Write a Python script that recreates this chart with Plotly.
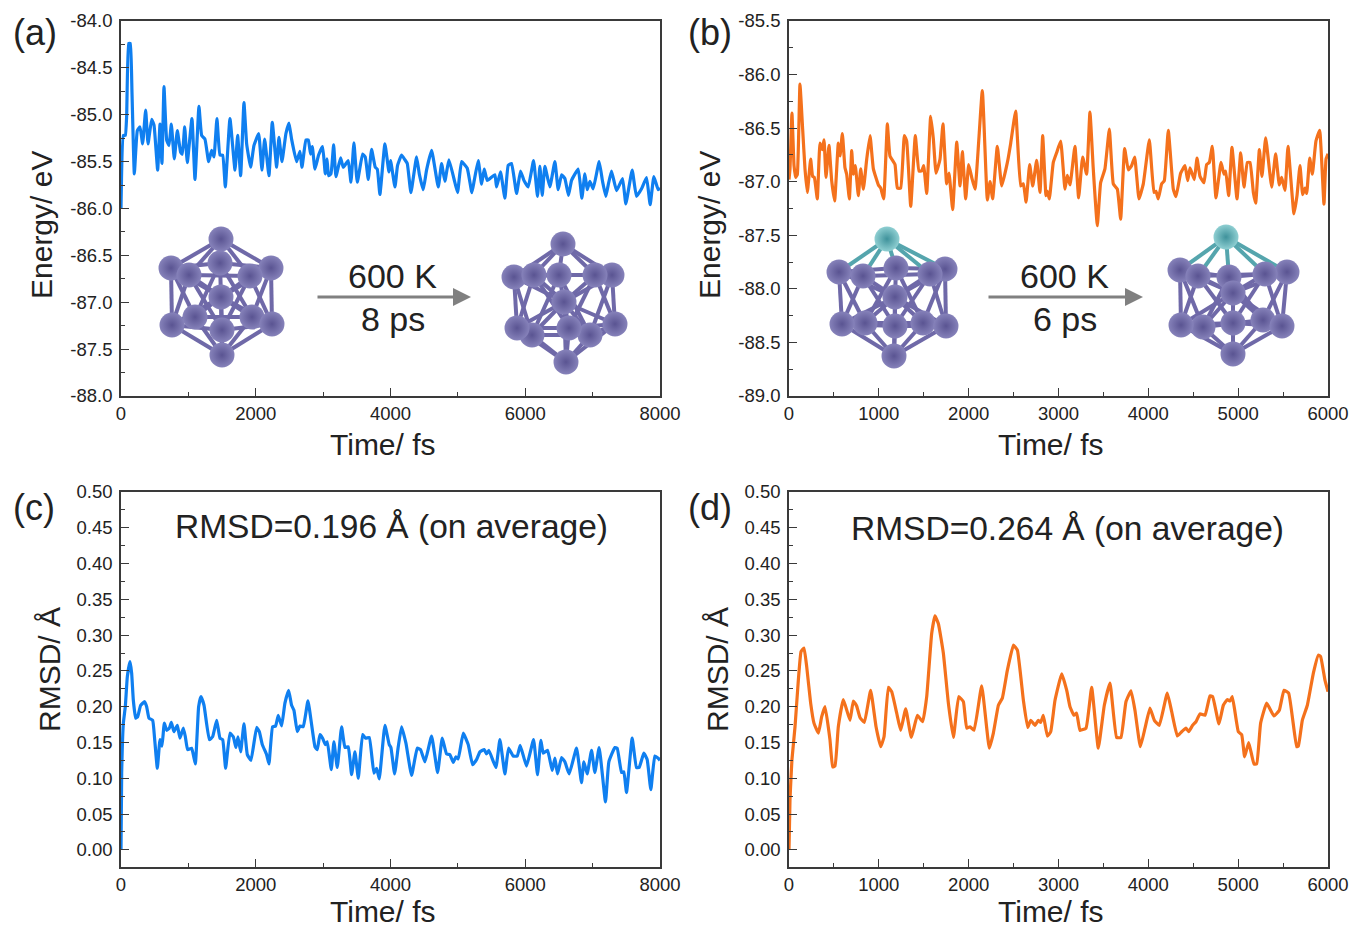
import plotly.graph_objects as go

# Panel (a): energy, blue
t_a = [0,35,64,84,114,138,163,198,242,282,321,366,401,455,490,544,579,608,638,678,712,747,791,836,885,910,945,984,1053,1098,1157,1197,1246,1301,1345,1380,1424,1469,1509,1548,1617,1692,1731,1776,1825,1865,1924,1973,2043,2092,2132,2196,2245,2310,2344,2389,2448,2493,2532,2606,2656,2686,2745,2780,2814,2839,2879,2933,2992,3032,3057,3081,3116,3156,3190,3259,3299,3373,3413,3457,3507,3586,3625,3670,3719,3774,3804,3843,3917,3977,4001,4066,4105,4164,4214,4249,4303,4387,4427,4486,4535,4610,4709,4758,4807,4867,4941,4995,5055,5139,5208,5243,5302,5352,5391,5436,5549,5574,5633,5698,5747,5797,5871,5930,5980,6044,6123,6182,6217,6252,6291,6365,6440,6489,6539,6588,6642,6687,6786,6840,6885,6919,6959,7008,7097,7147,7196,7231,7280,7355,7444,7493,7587,7651,7726,7800,7854,7909,7973,8000]
e_a = [-86.00,-85.22,-85.22,-85.01,-84.24,-84.24,-84.76,-85.63,-85.17,-85.13,-85.31,-84.95,-85.31,-85.05,-85.11,-85.59,-85.10,-85.52,-84.70,-85.27,-85.33,-85.10,-85.47,-85.17,-85.40,-85.42,-85.13,-85.51,-85.04,-85.69,-84.91,-85.22,-85.26,-85.50,-85.38,-85.45,-85.04,-85.43,-85.43,-85.77,-85.04,-85.59,-85.22,-85.65,-84.87,-85.31,-85.56,-85.33,-85.20,-85.59,-85.26,-85.65,-85.08,-85.56,-85.24,-85.50,-85.20,-85.09,-85.26,-85.50,-85.39,-85.56,-85.27,-85.27,-85.42,-85.34,-85.58,-85.43,-85.34,-85.63,-85.47,-85.65,-85.63,-85.32,-85.66,-85.46,-85.56,-85.49,-85.72,-85.30,-85.72,-85.42,-85.45,-85.69,-85.37,-85.56,-85.58,-85.85,-85.31,-85.61,-85.49,-85.77,-85.54,-85.43,-85.48,-85.52,-85.83,-85.45,-85.63,-85.80,-85.59,-85.38,-85.77,-85.52,-85.71,-85.48,-85.68,-85.83,-85.50,-85.57,-85.83,-85.70,-85.49,-85.74,-85.58,-85.70,-85.64,-85.77,-85.61,-85.89,-85.54,-85.52,-85.84,-85.60,-85.70,-85.77,-85.49,-85.87,-85.55,-85.86,-85.55,-85.77,-85.50,-85.80,-85.64,-85.68,-85.86,-85.70,-85.58,-85.89,-85.63,-85.80,-85.71,-85.79,-85.50,-85.71,-85.87,-85.75,-85.60,-85.81,-85.68,-85.95,-85.59,-85.87,-85.79,-85.67,-85.96,-85.66,-85.80,-85.78]

# Panel (b): energy, orange
t_b = [0,11,33,56,74,93,122,152,178,204,241,263,282,315,345,371,390,412,445,475,508,549,568,594,623,642,672,698,716,738,772,798,828,865,902,939,995,1021,1054,1095,1124,1180,1206,1243,1284,1310,1355,1406,1447,1477,1499,1533,1577,1607,1637,1681,1714,1755,1781,1822,1867,1904,1930,1967,2000,2034,2071,2152,2208,2238,2267,2319,2368,2431,2468,2523,2579,2609,2639,2679,2713,2757,2794,2824,2861,2876,2898,2942,2979,3024,3072,3098,3128,3183,3224,3269,3313,3350,3387,3432,3469,3517,3566,3610,3655,3692,3736,3777,3814,3848,3896,3944,4011,4063,4085,4111,4148,4178,4222,4278,4308,4360,4408,4438,4464,4512,4542,4575,4619,4649,4679,4712,4753,4809,4842,4861,4894,4931,4987,5028,5065,5102,5132,5169,5195,5236,5265,5306,5373,5417,5458,5484,5521,5555,5621,5655,5688,5718,5744,5763,5796,5826,5866,5907,5955,5978,6000]
e_b = [-86.98,-86.88,-86.36,-86.85,-86.96,-86.93,-86.09,-86.51,-86.88,-87.10,-86.79,-86.95,-86.96,-87.16,-86.64,-86.70,-86.61,-86.96,-86.66,-86.99,-87.18,-86.64,-86.76,-86.55,-86.87,-86.93,-87.16,-86.71,-86.93,-86.85,-87.13,-86.88,-87.07,-86.79,-86.57,-86.88,-87.03,-87.06,-87.16,-86.46,-86.76,-86.84,-87.06,-87.06,-86.57,-86.62,-87.23,-86.57,-86.90,-86.90,-86.85,-87.11,-86.39,-86.60,-86.92,-86.79,-86.46,-87.02,-86.92,-87.26,-86.63,-87.04,-86.72,-87.16,-86.84,-86.96,-87.07,-86.15,-87.17,-87.00,-87.16,-86.67,-87.04,-86.82,-86.64,-86.34,-87.04,-87.02,-87.19,-86.84,-87.04,-86.80,-87.10,-86.57,-87.13,-87.09,-87.16,-86.82,-86.73,-86.62,-87.07,-86.94,-87.03,-86.67,-87.15,-86.77,-86.93,-86.35,-86.88,-87.41,-87.01,-86.88,-86.51,-87.02,-87.07,-87.35,-86.69,-86.89,-86.85,-86.77,-87.16,-87.02,-86.61,-87.10,-87.09,-87.16,-87.02,-86.99,-86.52,-87.07,-87.14,-86.92,-86.85,-86.99,-86.87,-86.98,-86.78,-86.95,-87.01,-86.84,-86.82,-86.67,-87.15,-86.82,-86.93,-86.90,-87.13,-86.68,-87.16,-86.73,-87.05,-86.82,-86.82,-87.10,-87.20,-86.70,-86.95,-86.59,-87.05,-86.74,-87.03,-86.96,-87.08,-86.67,-87.30,-87.13,-86.85,-87.12,-87.06,-87.11,-86.78,-86.93,-86.62,-86.52,-87.21,-86.79,-86.74]

# Panel (c): RMSD, blue
t_c = [0,10,35,64,94,134,158,183,218,247,292,351,381,415,470,500,539,579,608,643,678,717,747,786,836,875,925,955,989,1049,1103,1152,1187,1232,1311,1360,1420,1469,1509,1553,1617,1667,1706,1736,1776,1825,1875,1929,2013,2053,2097,2161,2196,2250,2295,2334,2384,2433,2488,2532,2567,2616,2656,2705,2775,2879,2913,2953,2992,3032,3062,3121,3160,3210,3274,3324,3373,3423,3472,3522,3586,3630,3685,3754,3794,3833,3917,3981,4006,4061,4115,4164,4229,4313,4397,4446,4511,4610,4699,4768,4832,4882,4931,4971,5005,5080,5154,5218,5277,5327,5391,5426,5460,5564,5624,5698,5752,5821,5881,5925,6019,6123,6182,6232,6267,6331,6400,6440,6479,6539,6588,6652,6761,6835,6870,6919,6984,7033,7097,7191,7241,7330,7365,7429,7463,7503,7587,7651,7691,7760,7810,7864,7923,7973,8000]
r_c = [0.000,0.107,0.177,0.200,0.242,0.263,0.247,0.209,0.184,0.186,0.202,0.207,0.200,0.184,0.181,0.154,0.114,0.154,0.145,0.177,0.167,0.170,0.178,0.165,0.174,0.156,0.170,0.158,0.140,0.142,0.120,0.200,0.214,0.202,0.154,0.158,0.181,0.156,0.154,0.114,0.163,0.158,0.143,0.158,0.137,0.176,0.133,0.125,0.171,0.165,0.147,0.133,0.120,0.172,0.173,0.188,0.173,0.205,0.223,0.202,0.195,0.165,0.173,0.172,0.208,0.144,0.140,0.161,0.156,0.147,0.151,0.112,0.151,0.115,0.172,0.143,0.144,0.105,0.137,0.100,0.161,0.156,0.157,0.107,0.114,0.099,0.174,0.147,0.143,0.106,0.144,0.172,0.149,0.104,0.142,0.140,0.123,0.159,0.108,0.156,0.134,0.133,0.122,0.130,0.127,0.163,0.147,0.119,0.126,0.137,0.140,0.134,0.139,0.115,0.154,0.106,0.142,0.131,0.131,0.146,0.117,0.154,0.105,0.153,0.135,0.139,0.111,0.128,0.106,0.129,0.123,0.106,0.142,0.094,0.123,0.106,0.139,0.108,0.143,0.067,0.123,0.143,0.142,0.108,0.109,0.080,0.156,0.115,0.115,0.135,0.126,0.084,0.131,0.128,0.125]

# Panel (d): RMSD, orange
t_d = [0,11,22,33,67,104,134,167,197,241,278,327,364,401,456,486,512,549,605,679,716,753,790,839,909,969,1021,1058,1106,1143,1199,1243,1299,1362,1429,1488,1533,1588,1625,1663,1718,1774,1830,1889,1941,1978,2015,2060,2145,2230,2275,2331,2375,2431,2498,2542,2609,2657,2691,2739,2776,2802,2831,2876,2913,2961,3036,3091,3128,3172,3202,3239,3306,3369,3443,3510,3573,3647,3695,3751,3807,3851,3911,3963,4018,4067,4122,4211,4260,4323,4371,4419,4449,4493,4530,4575,4631,4686,4716,4786,4835,4879,4909,4935,5002,5039,5072,5117,5176,5206,5250,5317,5399,5458,5510,5562,5651,5670,5714,5770,5837,5892,5918,5966,6000]
r_d = [0.000,0.070,0.100,0.126,0.172,0.237,0.277,0.282,0.256,0.205,0.177,0.163,0.186,0.200,0.154,0.116,0.117,0.172,0.210,0.181,0.208,0.201,0.185,0.178,0.223,0.172,0.144,0.158,0.227,0.221,0.191,0.167,0.197,0.157,0.188,0.179,0.214,0.302,0.327,0.316,0.275,0.205,0.157,0.214,0.207,0.170,0.172,0.167,0.229,0.142,0.163,0.202,0.212,0.251,0.286,0.279,0.209,0.171,0.181,0.174,0.181,0.178,0.188,0.159,0.165,0.209,0.246,0.223,0.200,0.188,0.191,0.167,0.170,0.227,0.142,0.202,0.233,0.157,0.157,0.207,0.222,0.195,0.144,0.170,0.198,0.181,0.174,0.219,0.193,0.159,0.165,0.170,0.165,0.174,0.179,0.190,0.188,0.215,0.214,0.176,0.202,0.210,0.208,0.214,0.165,0.161,0.130,0.150,0.120,0.120,0.177,0.205,0.187,0.195,0.223,0.219,0.144,0.145,0.181,0.202,0.247,0.272,0.270,0.237,0.221]

# Tick labels
x_ticks_8000 = [0, 2000, 4000, 6000, 8000]
x_ticks_6000 = [0, 1000, 2000, 3000, 4000, 5000, 6000]
y_ticks_a = [-84.0,-84.5,-85.0,-85.5,-86.0,-86.5,-87.0,-87.5,-88.0]
y_ticks_b = [-85.5,-86.0,-86.5,-87.0,-87.5,-88.0,-88.5,-89.0]
y_ticks_r = [0.00,0.05,0.10,0.15,0.20,0.25,0.30,0.35,0.40,0.45,0.50]

BLUE = "#0f7ff0"
ORANGE = "#f4711c"
AXIS = "#3a3a3a"
TEXT = "#222222"
FONT = "Liberation Sans"
W, H = 1352, 928

panels = [
    dict(t=t_a, v=e_a, color=BLUE, box=(121, 660, 21, 396), xr=(0, 8000), yr=(-88.0, -84.0),
         xt=x_ticks_8000, yt=y_ticks_a, yfmt="{:.1f}", xminor=1000, yminor=0.25, ytitle="Energy/ eV",
         letter="(a)", ylab=(41, 225), let=(35, 33), tlab=444),
    dict(t=t_b, v=e_b, color=ORANGE, box=(789, 1328, 21, 396), xr=(0, 6000), yr=(-89.0, -85.5),
         xt=x_ticks_6000, yt=y_ticks_b, yfmt="{:.1f}", xminor=500, yminor=0.25, ytitle="Energy/ eV",
         letter="(b)", ylab=(709, 225), let=(710, 33), tlab=444),
    dict(t=t_c, v=r_c, color=BLUE, box=(121, 660, 492, 867), xr=(0, 8000), yr=(-0.024, 0.5),
         xt=x_ticks_8000, yt=y_ticks_r, yfmt="{:.2f}", xminor=1000, yminor=0.025, ytitle="RMSD/ Å",
         letter="(c)", ylab=(49, 670), let=(34, 507), tlab=911),
    dict(t=t_d, v=r_d, color=ORANGE, box=(789, 1328, 492, 867), xr=(0, 6000), yr=(-0.024, 0.5),
         xt=x_ticks_6000, yt=y_ticks_r, yfmt="{:.2f}", xminor=500, yminor=0.025, ytitle="RMSD/ Å",
         letter="(d)", ylab=(717, 670), let=(710, 507), tlab=911),
]

fig = go.Figure()
ann = []
layout_axes = {}

def label(x, y, text, size, angle=0):
    ann.append(dict(xref="paper", yref="paper", x=x / W, y=1 - y / H, text=text, showarrow=False,
                    xanchor="center", yanchor="middle", textangle=angle,
                    font=dict(family=FONT, size=size, color=TEXT)))

for i, p in enumerate(panels, start=1):
    xa, ya = f"xaxis{i}", f"yaxis{i}"
    x0, x1, y0, y1 = p["box"]
    fig.add_trace(go.Scatter(x=p["t"], y=p["v"], mode="lines", showlegend=False, hoverinfo="skip",
                             line=dict(color=p["color"], width=3.2, shape="spline", smoothing=0.35),
                             xaxis=f"x{i}", yaxis=f"y{i}"))
    common = dict(showgrid=False, zeroline=False, showline=True, linecolor=AXIS, linewidth=1.6, mirror=True,
                  ticks="inside", ticklen=8, tickwidth=1.4, tickcolor=AXIS, automargin=False,
                  tickfont=dict(family=FONT, size=18.5, color=TEXT))
    layout_axes[xa] = dict(common, domain=[x0 / W, x1 / W], range=list(p["xr"]), anchor=f"y{i}",
                           tickmode="array", tickvals=p["xt"], ticktext=[str(v) for v in p["xt"]],
                           minor=dict(tickmode="linear", tick0=0, dtick=p["xminor"], ticks="inside",
                                      ticklen=4, tickwidth=1.2, tickcolor=AXIS))
    layout_axes[ya] = dict(common, domain=[1 - y1 / H, 1 - y0 / H], range=list(p["yr"]), anchor=f"x{i}",
                           ticklabelstandoff=3,
                           tickmode="array", tickvals=p["yt"], ticktext=[p["yfmt"].format(v) for v in p["yt"]],
                           minor=dict(tickmode="linear", tick0=0, dtick=p["yminor"], ticks="inside",
                                      ticklen=4, tickwidth=1.2, tickcolor=AXIS))
    label((x0 + x1) / 2 - 8, p["tlab"], "Time/ fs", 30)
    label(p["ylab"][0], p["ylab"][1], p["ytitle"], 30, angle=-90)
    label(p["let"][0], p["let"][1], p["letter"], 36)

label(391, 526, "RMSD=0.196 Å (on average)", 33.5)
label(1067, 528, "RMSD=0.264 Å (on average)", 33.5)
label(392, 276, "600 K", 34)
label(393, 319, "8 ps", 34)
label(1064, 276, "600 K", 34)
label(1065, 319, "6 ps", 34)

for xs, xe in ((316, 471), (987, 1143)):
    ann.append(dict(xref="paper", yref="paper", axref="pixel", ayref="pixel",
                    x=xe / W, y=1 - 297 / H, ax=xs - xe, ay=0, text="", showarrow=True,
                    arrowhead=2, arrowsize=1.2, arrowwidth=3, arrowcolor="#808080"))

# Cluster illustrations, on a pixel-sized overlay axis
clusters = {
    "a_left": [(221,239),(171,268),(189,275),(220,263),(250,276),(271,268),(221,297),(172,325),(195,317),(252,317),(272,324),(222,330),(222,355)],
    "a_right": [(563,244),(514,277),(534,275),(559,275),(595,275),(612,275),(564,302),(517,328),(532,335),(590,335),(615,324),(569,328),(566,362)],
    "b_left": [(887,239),(839,272),(863,276),(896,268),(930,274),(945,269),(895,297),(842,324),(865,323),(923,323),(946,326),(895,326),(894,356)],
    "b_right": [(1226,237),(1180,270),(1198,276),(1229,277),(1265,274),(1287,272),(1233,293),(1181,325),(1203,327),(1263,320),(1282,326),(1233,323),(1233,354)],
}
bonds = [(1,2),(2,4),(4,5),(5,3),(3,1),(7,11),(11,10),(10,9),(9,8),(8,7),(1,7),(1,8),(2,7),(2,11),(4,11),(4,10),
         (5,10),(5,9),(3,9),(3,8),(12,7),(12,11),(12,10),(12,9),(12,8),(6,1),(6,2),(6,3),(6,4),(6,5),(6,7),(6,8),(6,9),(6,10),(6,11),(6,12)]
top_bonds = [(0,1),(0,2),(0,3),(0,4),(0,5)]

layout_axes["xaxis5"] = dict(domain=[0, 1], range=[0, W], visible=False, anchor="y5", automargin=False)
layout_axes["yaxis5"] = dict(domain=[0, 1], range=[H, 0], visible=False, anchor="x5", automargin=False)

for name, atoms in clusters.items():
    teal = name.startswith("b")
    bx, by = [], []
    for a, b in bonds + ([] if teal else top_bonds):
        bx += [atoms[a][0], atoms[b][0], None]
        by += [atoms[a][1], atoms[b][1], None]
    fig.add_trace(go.Scatter(x=bx, y=by, mode="lines", line=dict(color="#6f69a8", width=4),
                             xaxis="x5", yaxis="y5", showlegend=False, hoverinfo="skip"))
    if teal:
        tx, ty = [], []
        for a, b in top_bonds:
            tx += [atoms[a][0], atoms[b][0], None]
            ty += [atoms[a][1], atoms[b][1], None]
        fig.add_trace(go.Scatter(x=tx, y=ty, mode="lines", line=dict(color="#55a5ad", width=4),
                                 xaxis="x5", yaxis="y5", showlegend=False, hoverinfo="skip"))
    order = [3, 8, 9, 6, 1, 5, 7, 10, 2, 4, 11, 12, 0]
    centers = [("#8fcfd2" if teal and k == 0 else "#8682ba") for k in order]
    edges = [("#3f929b" if teal and k == 0 else "#5a5492") for k in order]
    fig.add_trace(go.Scatter(x=[atoms[k][0] for k in order], y=[atoms[k][1] for k in order], mode="markers",
                             marker=dict(size=25, color=centers, gradient=dict(type="radial", color=edges),
                                         line=dict(width=0)),
                             xaxis="x5", yaxis="y5", showlegend=False, hoverinfo="skip"))

fig.update_layout(width=W, height=H, margin=dict(l=0, r=0, t=0, b=0), paper_bgcolor="white",
                  plot_bgcolor="rgba(0,0,0,0)", showlegend=False, annotations=ann, **layout_axes)

fig.write_html("out.html", config={"displayModeBar": False},
               post_script="document.body.style.margin='0';document.body.style.overflow='hidden';")
